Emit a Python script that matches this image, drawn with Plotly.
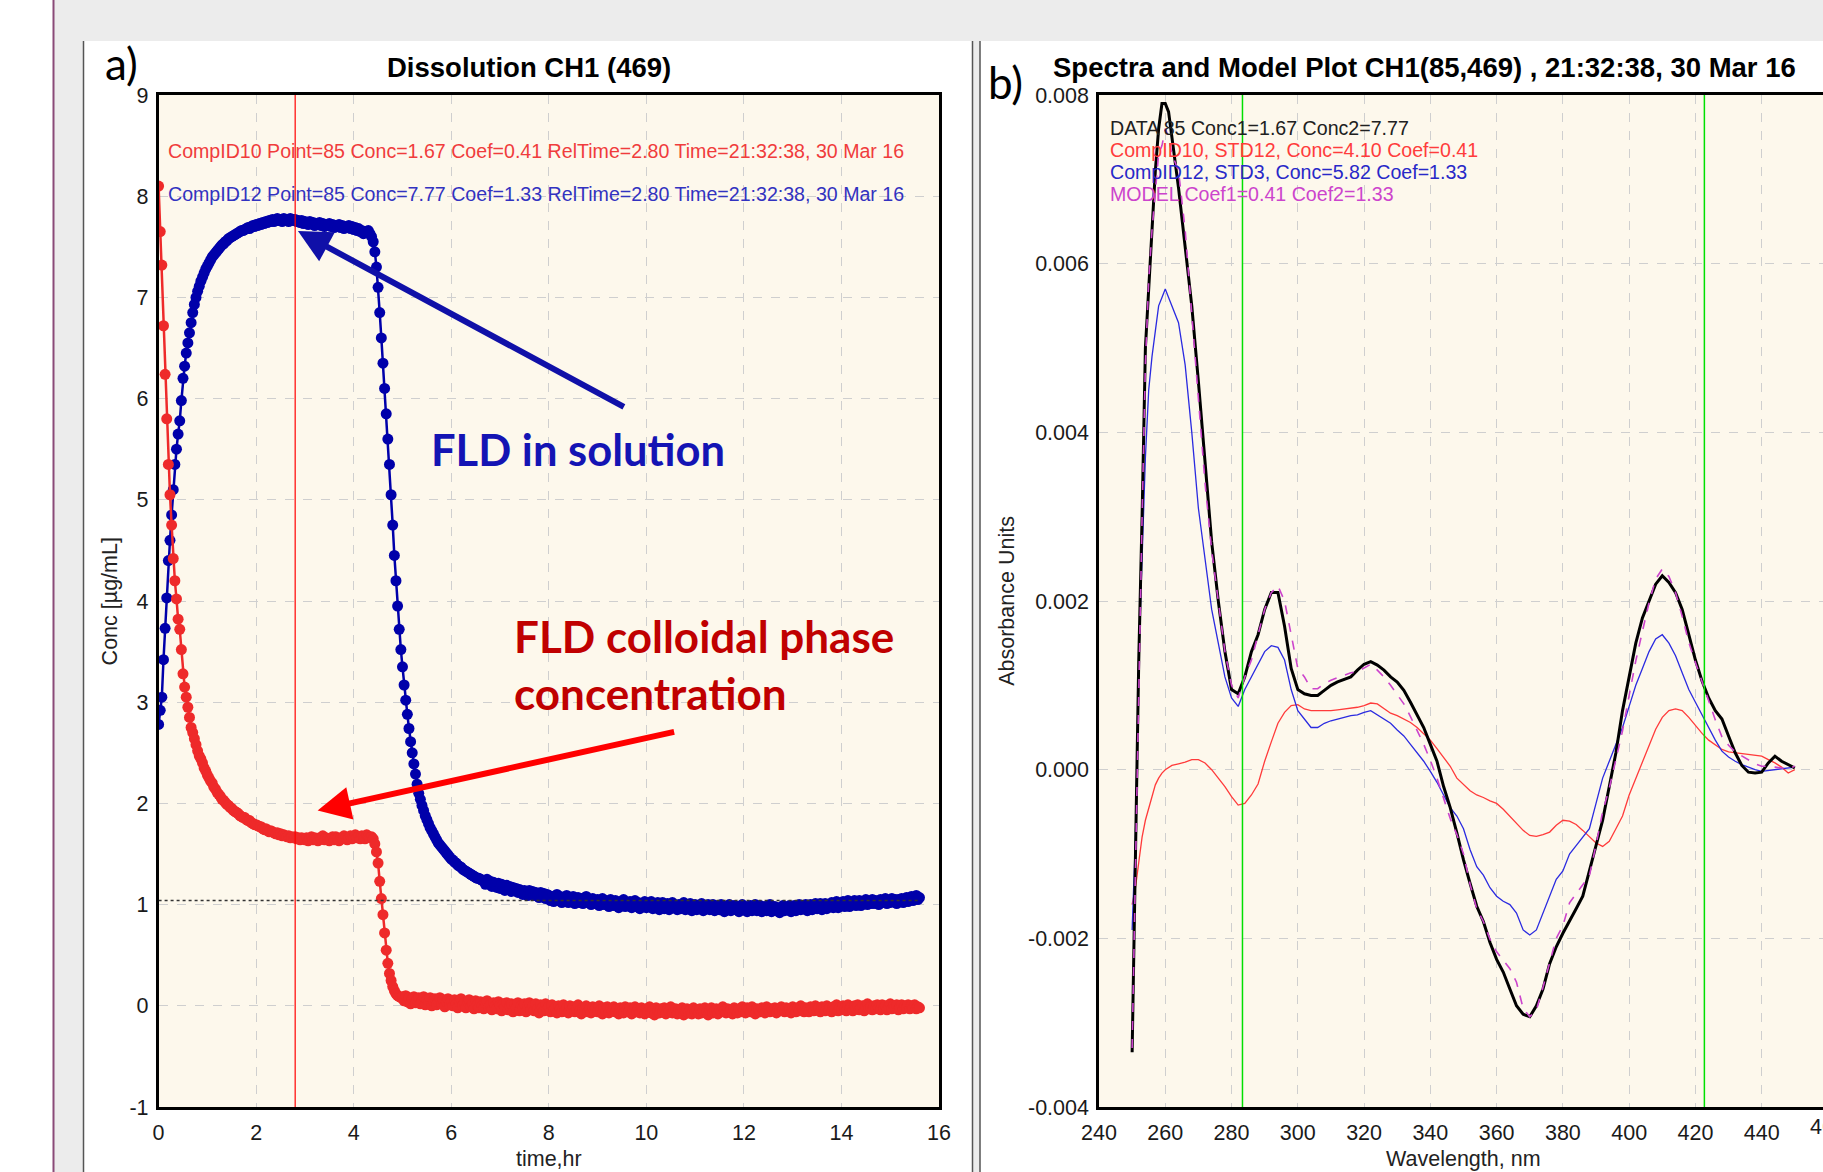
import plotly.graph_objects as go

W, H = 1823, 1172

# ---------------- Panel a: dissolution data ----------------
SAMPLE_INTERVAL_HR = 2 / 60  # one spectrum every 2 minutes (point 85 -> 2.80 h)

comp10_conc = [
    8.10, 7.65, 7.32, 6.72, 6.24, 5.80, 5.35, 5.05, 4.75, 4.42,
    4.20, 4.02, 3.82, 3.72, 3.52, 3.28, 3.15, 3.05, 2.95, 2.85,
    2.75, 2.70, 2.64, 2.58, 2.52, 2.47, 2.44, 2.40, 2.35, 2.32,
    2.28, 2.25, 2.22, 2.20, 2.16, 2.14, 2.11, 2.09, 2.07, 2.04,
    2.03, 2.01, 1.99, 1.98, 1.96, 1.95, 1.93, 1.92, 1.91, 1.90,
    1.88, 1.87, 1.86, 1.86, 1.84, 1.83, 1.83, 1.81, 1.80, 1.79,
    1.79, 1.78, 1.77, 1.77, 1.75, 1.74, 1.75, 1.73, 1.72, 1.73,
    1.72, 1.71, 1.70, 1.71, 1.69, 1.70, 1.68, 1.69, 1.68, 1.67,
    1.68, 1.66, 1.67, 1.66, 1.67, 1.65, 1.66, 1.64, 1.66, 1.65,
    1.64, 1.66, 1.63, 1.65, 1.67, 1.64, 1.66, 1.65, 1.63, 1.66,
    1.65, 1.68, 1.64, 1.66, 1.65, 1.63, 1.65, 1.67, 1.64, 1.67,
    1.65, 1.63, 1.66, 1.65, 1.68, 1.66, 1.64, 1.66, 1.68, 1.65,
    1.66, 1.69, 1.66, 1.67, 1.65, 1.68, 1.67, 1.65, 1.69, 1.67,
    1.66, 1.67, 1.65, 1.60, 1.52, 1.41, 1.23, 1.06, 0.90, 0.72,
    0.55, 0.42, 0.32, 0.25, 0.19, 0.15, 0.12, 0.10, 0.09, 0.08,
    0.09, 0.05, 0.10, 0.04, 0.08, 0.02, 0.07, 0.09, 0.03, 0.06,
    0.08, 0.02, 0.05, 0.09, 0.01, 0.06, 0.03, 0.08, 0.00, 0.05,
    0.07, 0.01, 0.04, 0.08, 0.02, 0.06, -0.01, 0.04, 0.07, 0.01,
    0.05, 0.00, 0.06, 0.02, -0.02, 0.04, 0.07, 0.00, 0.03, -0.02,
    0.04, 0.06, -0.01, 0.02, -0.03, 0.05, 0.01, -0.02, 0.04, 0.00,
    -0.03, 0.03, 0.05, -0.02, 0.01, -0.04, 0.03, 0.00, -0.03, 0.04,
    0.01, -0.05, 0.02, -0.01, 0.03, -0.04, 0.00, 0.02, -0.06, 0.01,
    -0.02, 0.03, -0.05, 0.00, -0.03, 0.02, -0.06, -0.01, 0.03, -0.04,
    0.00, -0.05, 0.02, -0.03, -0.07, 0.01, -0.02, -0.05, 0.02, -0.04,
    -0.01, -0.06, 0.01, -0.04, -0.02, -0.07, 0.00, -0.03, -0.06, 0.01,
    -0.05, -0.02, -0.07, 0.00, -0.04, -0.01, -0.06, -0.03, 0.01, -0.05,
    -0.08, -0.02, -0.04, 0.00, -0.06, -0.03, -0.07, -0.01, -0.05, -0.02,
    -0.06, 0.00, -0.04, -0.08, -0.02, -0.05, -0.01, -0.07, -0.03, -0.05,
    -0.01, -0.06, -0.03, -0.08, -0.02, -0.05, -0.07, -0.01, -0.04, -0.06,
    -0.02, -0.08, -0.04, -0.01, -0.06, -0.03, -0.07, -0.02, -0.05, -0.08,
    -0.03, -0.06, -0.01, -0.07, -0.04, -0.09, -0.02, -0.05, -0.07, -0.03,
    -0.06, -0.02, -0.08, -0.04, -0.06, -0.01, -0.07, -0.05, -0.03, -0.08,
    -0.04, -0.06, -0.02, -0.09, -0.05, -0.03, -0.07, -0.04, -0.08, -0.02,
    -0.06, -0.04, -0.08, -0.03, -0.07, -0.05, -0.02, -0.06, -0.09, -0.04,
    -0.02, -0.07, -0.05, -0.03, -0.08, -0.04, -0.06, -0.01, -0.05, -0.07,
    -0.03, -0.06, -0.04, -0.08, -0.02, -0.05, -0.07, -0.03, -0.06, -0.01,
    -0.05, -0.07, -0.02, -0.04, -0.06, -0.01, -0.05, -0.08, -0.03, -0.04,
    -0.06, -0.02, -0.05, -0.07, -0.01, -0.04, -0.06, -0.03, -0.05, -0.02,
    -0.07, -0.03, -0.05, -0.01, -0.04, -0.06, -0.02, -0.05, -0.03, -0.07,
    -0.01, -0.04, -0.06, -0.02, -0.05, 0.00, -0.03, -0.06, -0.02, -0.04,
    -0.06, -0.01, -0.03, -0.05, 0.00, -0.04, -0.02, -0.06, -0.01, -0.03,
    -0.05, 0.00, -0.04, -0.02, -0.06, -0.01, -0.03, 0.01, -0.05, -0.02,
    -0.04, 0.00, -0.02, -0.05, 0.01, -0.03, -0.01, -0.05, 0.00, -0.03,
    0.01, -0.04, -0.02, 0.00, -0.05, -0.01, 0.02, -0.03, -0.01, -0.04,
    0.00, -0.03, 0.01, -0.02, -0.04, 0.01, -0.02, 0.00, -0.04, -0.01,
    0.02, -0.03, 0.00, -0.02, 0.01, -0.04, -0.01, 0.01, -0.03, 0.00,
    -0.02, 0.01, -0.03, 0.00, -0.02, 0.01, -0.03, -0.01, -0.02,
]

comp12_conc = [
    2.78, 2.92, 3.05, 3.42, 3.73, 4.03, 4.40, 4.60, 4.85, 5.10,
    5.35, 5.50, 5.65, 5.78, 5.98, 6.20, 6.32, 6.45, 6.55, 6.65,
    6.75, 6.85, 6.93, 7.00, 7.06, 7.11, 7.16, 7.20, 7.24, 7.28,
    7.31, 7.34, 7.37, 7.40, 7.42, 7.44, 7.46, 7.48, 7.50, 7.52,
    7.53, 7.55, 7.56, 7.58, 7.59, 7.60, 7.61, 7.62, 7.63, 7.64,
    7.65, 7.66, 7.66, 7.67, 7.68, 7.69, 7.68, 7.70, 7.71, 7.70,
    7.72, 7.71, 7.73, 7.72, 7.74, 7.73, 7.75, 7.74, 7.76, 7.75,
    7.77, 7.75, 7.76, 7.78, 7.76, 7.77, 7.75, 7.78, 7.76, 7.77,
    7.75, 7.78, 7.76, 7.77, 7.77, 7.75, 7.76, 7.74, 7.76, 7.73,
    7.75, 7.74, 7.72, 7.75, 7.73, 7.74, 7.71, 7.73, 7.72, 7.74,
    7.71, 7.73, 7.70, 7.72, 7.71, 7.73, 7.70, 7.72, 7.69, 7.71,
    7.70, 7.72, 7.69, 7.71, 7.68, 7.70, 7.69, 7.71, 7.68, 7.70,
    7.67, 7.69, 7.66, 7.68, 7.65, 7.66, 7.63, 7.65, 7.64, 7.66,
    7.63, 7.60, 7.55, 7.45, 7.30, 7.10, 6.85, 6.60, 6.35, 6.10,
    5.85, 5.60, 5.35, 5.05, 4.75, 4.45, 4.20, 3.95, 3.72, 3.52,
    3.35, 3.17, 3.02, 2.88, 2.74, 2.61, 2.50, 2.39, 2.29, 2.19,
    2.10, 2.04, 1.98, 1.93, 1.88, 1.84, 1.80, 1.76, 1.73, 1.70,
    1.67, 1.64, 1.61, 1.59, 1.57, 1.55, 1.53, 1.51, 1.49, 1.47,
    1.45, 1.44, 1.42, 1.41, 1.39, 1.38, 1.37, 1.35, 1.34, 1.33,
    1.32, 1.31, 1.30, 1.29, 1.28, 1.27, 1.26, 1.26, 1.25, 1.24,
    1.24, 1.20, 1.25, 1.21, 1.23, 1.18, 1.22, 1.20, 1.17, 1.21,
    1.16, 1.20, 1.17, 1.14, 1.19, 1.15, 1.18, 1.13, 1.17, 1.14,
    1.16, 1.12, 1.15, 1.13, 1.10, 1.14, 1.12, 1.09, 1.14, 1.11,
    1.13, 1.09, 1.12, 1.10, 1.07, 1.12, 1.08, 1.11, 1.06, 1.10,
    1.09, 1.04, 1.08, 1.03, 1.07, 1.10, 1.04, 1.08, 1.02, 1.07,
    1.05, 1.09, 1.02, 1.06, 1.03, 1.08, 1.01, 1.05, 1.07, 1.02,
    1.06, 1.01, 1.05, 1.08, 1.02, 1.04, 1.00, 1.06, 1.03, 1.01,
    1.05, 0.99, 1.03, 1.06, 1.00, 1.04, 1.01, 0.98, 1.05, 1.02,
    0.99, 1.04, 1.01, 0.97, 1.03, 1.00, 1.05, 0.98, 1.02, 0.99,
    1.03, 0.97, 1.01, 1.04, 0.98, 1.02, 0.96, 1.01, 0.99, 1.03,
    0.97, 1.01, 0.98, 1.03, 0.96, 1.00, 0.98, 1.02, 0.95, 0.99,
    1.02, 0.96, 0.99, 1.01, 0.95, 0.99, 1.02, 0.97, 0.99, 0.95,
    1.00, 0.96, 0.98, 1.02, 0.95, 0.99, 0.97, 1.01, 0.94, 0.98,
    1.00, 0.95, 0.99, 0.97, 1.01, 0.94, 0.98, 0.96, 1.00, 0.95,
    0.98, 1.00, 0.94, 0.97, 0.99, 0.95, 1.00, 0.96, 0.93, 0.98,
    0.96, 1.00, 0.94, 0.97, 0.99, 0.95, 0.98, 0.93, 0.97, 1.00,
    0.95, 0.98, 0.93, 0.97, 0.99, 0.94, 0.96, 1.00, 0.94, 0.97,
    0.99, 0.93, 0.96, 0.98, 0.94, 0.97, 1.00, 0.93, 0.96, 0.98,
    0.94, 0.97, 0.92, 0.96, 0.99, 0.94, 0.97, 0.95, 0.99, 0.93,
    0.97, 0.99, 0.94, 0.96, 1.00, 0.95, 0.98, 0.96, 1.00, 0.94,
    0.98, 1.00, 0.95, 0.97, 1.01, 0.96, 0.99, 1.01, 0.95, 0.99,
    1.01, 0.96, 1.00, 0.98, 1.02, 0.97, 1.00, 1.03, 0.97, 1.01,
    0.99, 1.03, 0.98, 1.01, 1.04, 0.98, 1.02, 1.00, 1.04, 0.99,
    1.02, 1.04, 0.99, 1.03, 1.01, 1.05, 1.00, 1.03, 1.01, 1.05,
    1.01, 1.04, 1.02, 1.00, 1.05, 1.02, 1.04, 1.06, 1.01, 1.04,
    1.02, 1.06, 1.03, 1.05, 1.01, 1.05, 1.03, 1.06, 1.02, 1.05,
    1.07, 1.03, 1.05, 1.08, 1.04, 1.06, 1.09, 1.05, 1.07,
]

cursor_reltime_hr = 2.80
reference_level = 1.04
time_ticks = [0, 2, 4, 6, 8, 10, 12, 14, 16]
conc_ticks = [-1, 0, 1, 2, 3, 4, 5, 6, 7, 8, 9]

# ---------------- Panel b: spectra at point 85 ----------------
wavelength_nm = [
    250, 251, 252, 253, 254, 255, 256, 257, 258, 259, 260, 261, 262,
    264, 266, 268, 270, 272, 274, 276, 278, 280, 282, 284, 286, 288, 290, 292, 294, 296, 298, 300,
    302, 304, 306, 308, 310, 312, 314, 316, 318, 320, 322, 324, 326, 328, 330, 332, 334, 336, 338, 340,
    342, 344, 346, 348, 350, 352, 354, 356, 358, 360, 362, 364, 366, 368, 370, 372, 374, 376, 378, 380,
    382, 384, 386, 388, 390, 392, 394, 396, 398, 400, 402, 404, 406, 408, 410, 412, 414, 416, 418, 420,
    422, 424, 426, 428, 430, 432, 434, 436, 438, 440, 442, 444, 446, 448, 450,
]

data85_abs = [
    -0.00335, -0.0009, 0.0013, 0.0030, 0.0050, 0.0057, 0.0064, 0.0071, 0.0076, 0.0079, 0.0079, 0.0078, 0.0075,
    0.0069, 0.0062, 0.0055, 0.0046, 0.0036, 0.0027, 0.0020, 0.0014, 0.00095, 0.0009, 0.0011, 0.0014, 0.0016, 0.0019, 0.0021, 0.0021, 0.0017, 0.0012, 0.00095,
    0.0009, 0.00088, 0.00088, 0.00094, 0.0010, 0.00104, 0.00107, 0.0011, 0.00118, 0.00125, 0.00128, 0.00124, 0.00118, 0.0011, 0.00104, 0.00094, 0.0008, 0.00065, 0.0005, 0.0003,
    0.0001, -0.0002, -0.00045, -0.00075, -0.00107, -0.00135, -0.00162, -0.0018, -0.00205, -0.00225, -0.0024, -0.0026, -0.0028, -0.0029, -0.00293, -0.0028, -0.0026, -0.0023, -0.0021, -0.00194,
    -0.0018, -0.00165, -0.0015, -0.0012, -0.0009, -0.0006, -0.0002, 0.0002, 0.0007, 0.0011, 0.0015, 0.0018, 0.0020, 0.0022, 0.0023, 0.00222, 0.0021, 0.0019, 0.0016, 0.0013,
    0.00105, 0.00085, 0.0007, 0.0006, 0.0004, 0.0002, 0.00005, -0.00003, -0.00004, -0.00003, 0.00008, 0.00016, 0.0001, 0.00006, 0.00002,
]

comp12_std3_abs = [
    -0.0019, -0.0008, 0.0013, 0.0026, 0.0037, 0.0045, 0.0049, 0.0052, 0.0055, 0.0056, 0.0057, 0.0056, 0.0055,
    0.0053, 0.0048, 0.0040, 0.0031, 0.0025, 0.0019, 0.0015, 0.0011, 0.00085, 0.00075, 0.00095, 0.0011, 0.00125, 0.0014, 0.00147, 0.00145, 0.0013, 0.00095, 0.0007,
    0.0006, 0.0005, 0.0005, 0.00055, 0.00058, 0.0006, 0.00062, 0.00064, 0.00065, 0.00068, 0.0007, 0.00065, 0.0006, 0.00055, 0.00047, 0.0004, 0.0003, 0.0002, 0.0001, -0.00002,
    -0.00015, -0.0003, -0.00045, -0.00055, -0.0007, -0.00095, -0.00115, -0.00125, -0.0014, -0.0015, -0.00156, -0.0016, -0.0017, -0.0019, -0.00196, -0.0019, -0.0017, -0.0015, -0.0013, -0.0012,
    -0.001, -0.0009, -0.0008, -0.0007, -0.0004, -0.0001, 0.0001, 0.0003, 0.0005, 0.00075, 0.001, 0.0012, 0.0014, 0.00155, 0.0016, 0.0015, 0.00135, 0.00115, 0.00095, 0.0008,
    0.00065, 0.0005, 0.00035, 0.00022, 0.00015, 0.0001, 0.00006, 0.00003, 0.0, -0.00002, -0.00001, 0.0, 0.00001, 0.00002, 0.00003,
]

comp10_std12_abs = [
    -0.0016, -0.0014, -0.0011, -0.0008, -0.0006, -0.00045, -0.0003, -0.00018, -0.0001, -0.00004, 0.0, 0.00003, 0.00005,
    0.00007, 0.00009, 0.00012, 0.00012, 0.00008, 0.0, -0.0001, -0.0002, -0.00032, -0.00042, -0.0004, -0.0003, -0.00017, 0.0001, 0.00033, 0.00055, 0.00068, 0.00076, 0.00077,
    0.00072, 0.0007, 0.0007, 0.0007, 0.0007, 0.00071, 0.00072, 0.00073, 0.00074, 0.00076, 0.00079, 0.00078, 0.00072, 0.00067, 0.00064, 0.0006, 0.00056, 0.0005, 0.00042, 0.00035,
    0.00025, 0.00015, 0.00004, -0.0001, -0.00018, -0.00025, -0.0003, -0.00033, -0.00037, -0.0004, -0.00047, -0.00055, -0.00064, -0.00072, -0.00078, -0.00079, -0.00077, -0.00074, -0.00066, -0.0006,
    -0.00061, -0.00065, -0.00072, -0.0008, -0.00087, -0.00091, -0.00085, -0.0007, -0.00055, -0.0003, -0.0001, 0.0001, 0.0003, 0.00048, 0.00062, 0.0007, 0.00072, 0.0007, 0.00062, 0.00052,
    0.00043, 0.00035, 0.0003, 0.00024, 0.00021, 0.0002, 0.00019, 0.00018, 0.00017, 0.00016, 0.00012, 0.00008, 0.00003, -0.00004, 0.0,
]

model_abs = [
    -0.0033, -0.0012, 0.0013, 0.0030, 0.0048, 0.0058, 0.0064, 0.0069, 0.0073, 0.0074, 0.0076, 0.0075, 0.0073,
    0.0071, 0.0064, 0.0054, 0.0044, 0.0034, 0.0026, 0.0020, 0.0014, 0.0010, 0.00085, 0.0011, 0.0013, 0.0016, 0.0019, 0.0021, 0.00218, 0.0020, 0.0016, 0.0012,
    0.0011, 0.00096, 0.00096, 0.00102, 0.00106, 0.00109, 0.00112, 0.00115, 0.00116, 0.00121, 0.00125, 0.00118, 0.0011, 0.0010, 0.00089, 0.00078, 0.00063, 0.00047, 0.0003, 0.00011,
    -0.0001, -0.00034, -0.00058, -0.00077, -0.0010, -0.00136, -0.00165, -0.0018, -0.00201, -0.00216, -0.00226, -0.00236, -0.00252, -0.00283, -0.00293, -0.00285, -0.00258, -0.0023, -0.0020, -0.00185,
    -0.00158, -0.00147, -0.00136, -0.00126, -0.00089, -0.0005, -0.00022, 0.00011, 0.00046, 0.00088, 0.00129, 0.00164, 0.00198, 0.00226, 0.00238, 0.00229, 0.0021, 0.00182, 0.00151, 0.00127,
    0.00104, 0.00081, 0.00059, 0.00039, 0.00029, 0.00021, 0.00016, 0.00011, 0.00007, 0.00004, 0.00004, 0.00003, 0.00002, 0.00001, 0.00004,
]

window_nm = [283.3, 422.7]
wl_ticks = [240, 260, 280, 300, 320, 340, 360, 380, 400, 420, 440]
abs_ticks = [-0.004, -0.002, 0.000, 0.002, 0.004, 0.006, 0.008]
abs_tick_labels = ["-0.004", "-0.002", "0.000", "0.002", "0.004", "0.006", "0.008"]

# ---------------- geometry (pixels) ----------------
A_X0, A_X1 = 158.6, 939.0
PLOT_TOP, PLOT_BOT = 95.0, 1107.0
B_X0 = 1099.0
PX_PER_NM = 3.3135
B_XMAX = 240 + (W - B_X0) / PX_PER_NM


def px(x):
    return x / W


def py(y):
    return 1 - y / H


FONT = "Liberation Sans, Arial, sans-serif"
TICKFONT = dict(family=FONT, size=21.5, color="#1a1a1a")
GRID = "#cfcfcf"

times = [i * SAMPLE_INTERVAL_HR for i in range(len(comp10_conc))]

fig = go.Figure()

fig.add_trace(go.Scatter(
    x=times, y=comp12_conc, mode="lines+markers", xaxis="x", yaxis="y",
    line=dict(color="#0000aa", width=2.5), marker=dict(color="#0000aa", size=11, line=dict(width=0)),
    name="CompID12"))
fig.add_trace(go.Scatter(
    x=times, y=comp10_conc, mode="lines+markers", xaxis="x", yaxis="y",
    line=dict(color="#ee2a2a", width=2.5), marker=dict(color="#ee2a2a", size=11, line=dict(width=0)),
    name="CompID10"))

fig.add_trace(go.Scatter(x=wavelength_nm, y=comp10_std12_abs, mode="lines", xaxis="x2", yaxis="y2",
                         line=dict(color="#ff3a3a", width=1.3), name="CompID10"))
fig.add_trace(go.Scatter(x=wavelength_nm, y=comp12_std3_abs, mode="lines", xaxis="x2", yaxis="y2",
                         line=dict(color="#2a2ae0", width=1.3), name="CompID12"))
fig.add_trace(go.Scatter(x=wavelength_nm, y=data85_abs, mode="lines", xaxis="x2", yaxis="y2",
                         line=dict(color="#000000", width=3), name="DATA"))
fig.add_trace(go.Scatter(x=wavelength_nm, y=model_abs, mode="lines", xaxis="x2", yaxis="y2",
                         line=dict(color="#cc44cc", width=1.6, dash="dash"), name="MODEL"))

axis_common = dict(showgrid=True, gridcolor=GRID, griddash="dash", gridwidth=1,
                   showline=True, linecolor="black", linewidth=2.5, zeroline=False,
                   ticks="", tickfont=TICKFONT, fixedrange=True, automargin=False)

fig.update_layout(
    width=W, height=H, autosize=False, margin=dict(l=0, r=0, t=0, b=0, pad=0, autoexpand=False),
    paper_bgcolor="white", plot_bgcolor="#fdf8ec", showlegend=False,
    font=dict(family=FONT),
    xaxis=dict(domain=[px(A_X0), px(A_X1)], range=[0, 16], anchor="y",
               tickvals=time_ticks, ticktext=[str(t) for t in time_ticks],
               mirror=True, ticklabelstandoff=4, **axis_common),
    yaxis=dict(domain=[py(PLOT_BOT), py(PLOT_TOP)], range=[-1, 9], anchor="x",
               tickvals=conc_ticks, ticktext=[str(t) for t in conc_ticks],
               mirror=True, ticklabelstandoff=3, **axis_common),
    xaxis2=dict(domain=[px(B_X0), 1.0], range=[240, B_XMAX], anchor="y2",
                tickvals=wl_ticks, ticktext=[str(t) for t in wl_ticks],
                mirror=True, ticklabelstandoff=4, **axis_common),
    yaxis2=dict(domain=[py(PLOT_BOT), py(PLOT_TOP)], range=[-0.004, 0.008], anchor="x2",
                tickvals=abs_ticks, ticktext=abs_tick_labels,
                mirror=False, ticklabelstandoff=3, **axis_common),
)

shapes = []
GREY = "#ececec"
# window chrome
shapes.append(dict(type="rect", xref="paper", yref="paper", x0=px(53), x1=1, y0=py(41), y1=1,
                   fillcolor=GREY, line=dict(width=0), layer="below"))
shapes.append(dict(type="rect", xref="paper", yref="paper", x0=px(53), x1=px(83), y0=0, y1=1,
                   fillcolor=GREY, line=dict(width=0), layer="below"))
shapes.append(dict(type="rect", xref="paper", yref="paper", x0=px(972), x1=px(980), y0=0, y1=py(41),
                   fillcolor=GREY, line=dict(width=0), layer="below"))
shapes.append(dict(type="line", xref="paper", yref="paper", x0=px(53.5), x1=px(53.5), y0=0, y1=1,
                   line=dict(color="#8a4a78", width=2), layer="below"))
for xl in (83.5, 972.5, 980.0):
    shapes.append(dict(type="line", xref="paper", yref="paper", x0=px(xl), x1=px(xl), y0=0, y1=py(41),
                       line=dict(color="#555555", width=1.5), layer="below"))
# cursor and reference line in panel a
shapes.append(dict(type="line", xref="x", yref="y", x0=cursor_reltime_hr, x1=cursor_reltime_hr, y0=-1, y1=9,
                   line=dict(color="#ff0000", width=1.2), layer="above"))
shapes.append(dict(type="line", xref="x", yref="y", x0=0, x1=times[-1], y0=reference_level, y1=reference_level,
                   line=dict(color="#333333", width=1.5, dash="dot"), layer="above"))
# wavelength window in panel b
for wl in window_nm:
    shapes.append(dict(type="line", xref="x2", yref="y2", x0=wl, x1=wl, y0=-0.004, y1=0.008,
                       line=dict(color="#00e000", width=1.5), layer="above"))
fig.update_layout(shapes=shapes)

ann = []


def text(x, y, t, size, color="black", family=FONT, xanchor="center", yanchor="middle",
         xref="paper", yref="paper", angle=0, align="center"):
    ann.append(dict(x=x, y=y, text=t, showarrow=False, xref=xref, yref=yref, xanchor=xanchor,
                    yanchor=yanchor, textangle=angle, align=align,
                    font=dict(family=family, size=size, color=color)))


text(px(529), py(67.4), "<b>Dissolution CH1 (469)</b>", 27.5)
text(px(1424), py(67.4), "<b>Spectra and Model Plot CH1(85,469) , 21:32:38, 30 Mar 16</b>", 27.5)
text(px(121), py(62.8), "a)", 44, family="Lato, sans-serif")
text(px(1005.6), py(82.5), "b)", 44, family="Lato, sans-serif")
text(px(110.4), py(601), "Conc [µg/mL]", 21.5, color="#222222", angle=-90)
text(px(1006.8), py(601), "Absorbance Units", 21.5, color="#222222", angle=-90)
text(px(548.7), py(1159), "time,hr", 21.5, color="#222222")
text(px(1463.7), py(1159), "Wavelength, nm", 21.5, color="#222222")
text(px(B_X0 + 220 * PX_PER_NM), py(1127), "460", 21.5, color="#1a1a1a")

text(0.158, 8.447, "CompID10 Point=85 Conc=1.67 Coef=0.41 RelTime=2.80 Time=21:32:38, 30 Mar 16",
     19.6, color="#f03c3c", xanchor="left", xref="x", yref="y")
text(0.158, 8.02, "CompID12 Point=85 Conc=7.77 Coef=1.33 RelTime=2.80 Time=21:32:38, 30 Mar 16",
     19.6, color="#3232c0", xanchor="left", xref="x", yref="y")

legend_lines = [
    ("DATA 85 Conc1=1.67 Conc2=7.77", "#202020", 0.00761),
    ("CompID10, STD12, Conc=4.10 Coef=0.41", "#ff3c3c", 0.00735),
    ("CompID12, STD3, Conc=5.82 Coef=1.33", "#2828c8", 0.00709),
    ("MODEL Coef1=0.41 Coef2=1.33", "#cc44cc", 0.00683),
]
for t, c, yv in legend_lines:
    text(242.7, yv, t, 19.6, color=c, xanchor="left", xref="x2", yref="y2")

text(8.59, 5.50, "<b>FLD in solution</b>", 43.5, color="#1414b4", family="Lato, sans-serif",
     xref="x", yref="y")
text(7.255, 3.372, "<b>FLD colloidal phase<br>concentration</b>", 44, color="#c00000",
     family="Lato, sans-serif", xanchor="left", xref="x", yref="y", align="left")

ann.append(dict(x=2.857, y=7.655, ax=9.57, ay=5.91, xref="x", yref="y", axref="x", ayref="y",
                text="", showarrow=True, arrowhead=2, arrowsize=1.1, arrowwidth=6, arrowcolor="#1010a8"))
ann.append(dict(x=3.26, y=1.93, ax=10.6, ay=2.71, xref="x", yref="y", axref="x", ayref="y",
                text="", showarrow=True, arrowhead=2, arrowsize=1.1, arrowwidth=6, arrowcolor="#ff0000"))

fig.update_layout(annotations=ann)

page_fix = ("document.documentElement.style.margin='0';document.body.style.margin='0';"
            "document.body.style.padding='0';document.documentElement.style.overflow='hidden';"
            "document.body.style.overflow='hidden';")
fig.write_html("out.html", config={"responsive": False, "displayModeBar": False}, post_script=page_fix)
